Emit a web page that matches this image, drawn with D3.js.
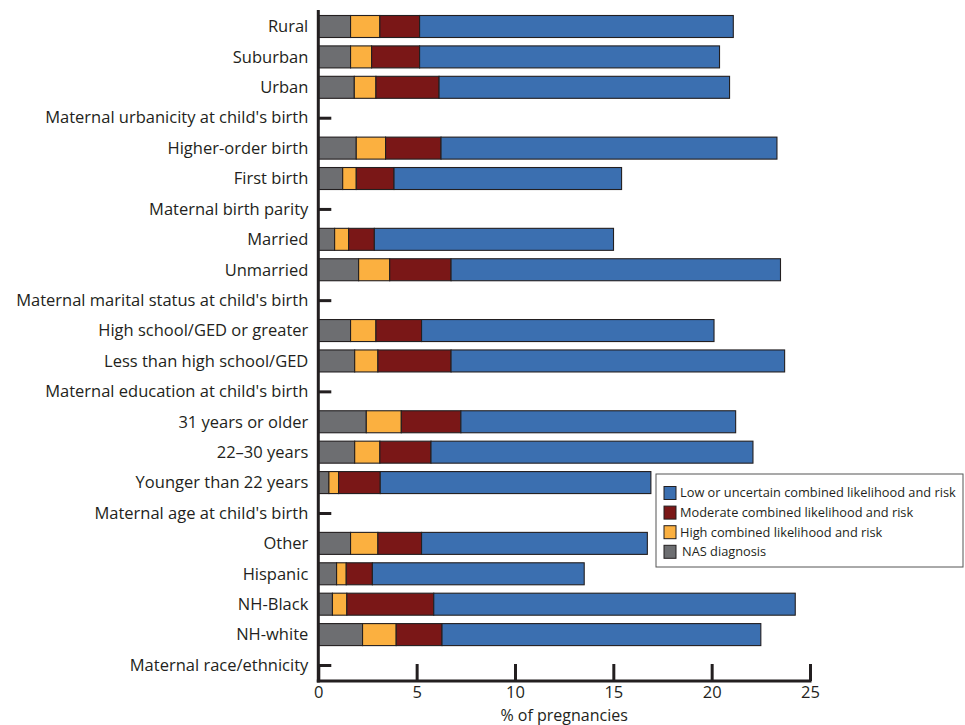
<!DOCTYPE html>
<html>
<head>
<meta charset="utf-8">
<script src="https://cdn.jsdelivr.net/npm/d3@7"></script>
<style>
  html, body { margin: 0; padding: 0; background: #fff; }
  svg { display: block; font-family: "Open Sans", "Noto Sans", sans-serif; }
</style>
</head>
<body>
<svg id="chart" width="965" height="725"></svg>
<script>
// Rows from top to bottom; group headings carry no bar.
const categories = [
  "Rural", "Suburban", "Urban", "Maternal urbanicity at child's birth",
  "Higher-order birth", "First birth", "Maternal birth parity",
  "Married", "Unmarried", "Maternal marital status at child's birth",
  "High school/GED or greater", "Less than high school/GED", "Maternal education at child's birth",
  "31 years or older", "22\u201330 years", "Younger than 22 years", "Maternal age at child's birth",
  "Other", "Hispanic", "NH-Black", "NH-white", "Maternal race/ethnicity"
];

// Percent of pregnancies in each segment (null = heading row)
const nasDiagnosis = [1.64, 1.64, 1.83, null, 1.93, 1.24, null, 0.83, 2.05, null, 1.64, 1.85, null, 2.44, 1.85, 0.54, null, 1.64, 0.93, 0.72, 2.25, null];
const highRisk     = [1.49, 1.07, 1.10, null, 1.49, 0.69, null, 0.71, 1.58, null, 1.29, 1.18, null, 1.78, 1.28, 0.49, null, 1.39, 0.49, 0.73, 1.71, null];
const moderateRisk = [2.02, 2.44, 3.21, null, 2.82, 1.92, null, 1.31, 3.12, null, 2.32, 3.72, null, 3.03, 2.60, 2.12, null, 2.22, 1.33, 4.42, 2.33, null];
const lowRisk      = [15.95, 15.25, 14.77, null, 17.08, 11.57, null, 12.16, 16.75, null, 14.87, 16.96, null, 13.97, 16.37, 13.76, null, 11.48, 10.77, 18.38, 16.21, null];

const seriesKeys   = ["nas", "high", "moderate", "low"];
const seriesNames  = {
  low: "Low or uncertain combined likelihood and risk",
  moderate: "Moderate combined likelihood and risk",
  high: "High combined likelihood and risk",
  nas: "NAS diagnosis"
};
const legendOrder  = ["low", "moderate", "high", "nas"];
const xTicks       = [0, 5, 10, 15, 20, 25];
const xTitle       = "% of pregnancies";

const colors = { low: "#3b6fb0", moderate: "#7a1717", high: "#fbb040", nas: "#6d6e71" };
const ink = "#231f20";

const rows = categories.map((c, i) => ({
  category: c,
  nas: nasDiagnosis[i], high: highRisk[i], moderate: moderateRisk[i], low: lowRisk[i],
  heading: nasDiagnosis[i] === null
}));

const svg = d3.select("#chart");
const x0 = 318.3, x1 = 810, axisY = 681;

const x = d3.scaleLinear().domain([0, 25]).range([x0, x1]);
const y = d3.scalePoint().domain(categories).range([26.5, 665]);
const barH = 22;

// left axis: labels plus short inward ticks
const yAxis = d3.axisLeft(y).tickSize(-13).tickPadding(10).tickSizeOuter(0);
const gy = svg.append("g").attr("transform", `translate(${x0},0)`).call(yAxis)
  .attr("font-family", null).attr("font-size", null);
gy.select(".domain").remove();
gy.selectAll(".tick line").attr("stroke", ink).attr("stroke-width", 3);
gy.selectAll(".tick text").attr("fill", ink).style("font-size", "16.5px");

// stacked bars
const stacked = d3.stack().keys(seriesKeys).value((d, k) => d[k] || 0)(rows);
svg.append("g").selectAll("g")
  .data(stacked).join("g")
  .attr("fill", d => colors[d.key])
  .selectAll("rect")
  .data(d => d.filter(s => !s.data.heading))
  .join("rect")
  .attr("x", d => x(d[0]))
  .attr("y", d => y(d.data.category) - barH / 2)
  .attr("width", d => x(d[1]) - x(d[0]))
  .attr("height", barH)
  .attr("stroke", ink)
  .attr("stroke-width", 1.1);

// bottom axis with upward ticks
const xAxis = d3.axisBottom(x).tickValues(xTicks).tickSize(-17).tickPadding(5).tickSizeOuter(0);
const gx = svg.append("g").attr("transform", `translate(0,${axisY})`).call(xAxis)
  .attr("font-family", null).attr("font-size", null);
gx.select(".domain").remove();
gx.selectAll(".tick line").attr("stroke", ink).attr("stroke-width", 3);
gx.selectAll(".tick text").attr("fill", ink).style("font-size", "16.5px");

// axis lines
svg.append("line").attr("x1", x0).attr("x2", x0).attr("y1", 10).attr("y2", axisY + 1.5)
  .attr("stroke", ink).attr("stroke-width", 3);
svg.append("line").attr("x1", x0 - 1.5).attr("x2", x1 + 1.5).attr("y1", axisY).attr("y2", axisY)
  .attr("stroke", ink).attr("stroke-width", 3);

svg.append("text")
  .attr("x", (x0 + x1) / 2).attr("y", 720.5)
  .attr("text-anchor", "middle").attr("fill", ink).style("font-size", "16px")
  .text(xTitle);

// legend
const lg = svg.append("g");
lg.append("rect").attr("x", 656).attr("y", 474).attr("width", 307).attr("height", 93)
  .attr("fill", "#fff").attr("stroke", "#555").attr("stroke-width", 1);
legendOrder.forEach((k, i) => {
  const cy = 493 + i * 19.6;
  lg.append("rect").attr("x", 664).attr("y", cy - 6.5).attr("width", 12).attr("height", 13)
    .attr("fill", colors[k]).attr("stroke", ink).attr("stroke-width", 1);
  lg.append("text").attr("x", 680 + (k === "nas" ? 2 : 0)).attr("y", cy).attr("dy", "0.35em")
    .attr("fill", ink).style("font-size", "12.8px").text(seriesNames[k]);
});
</script>
</body>
</html>
